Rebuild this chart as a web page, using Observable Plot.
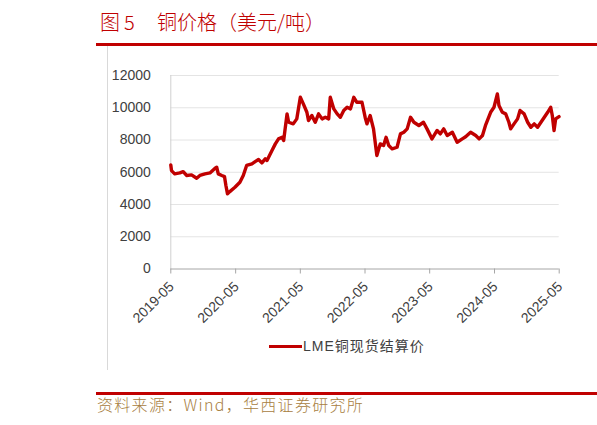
<!DOCTYPE html>
<html>
<head>
<meta charset="utf-8">
<script src="https://cdn.jsdelivr.net/npm/d3@7"></script>
<script src="https://cdn.jsdelivr.net/npm/@observablehq/plot@0.6"></script>
<style>
  html, body { margin: 0; padding: 0; background: #fff; }
  #page { position: relative; width: 597px; height: 425px; overflow: hidden; background: #fff; }
  .abs { position: absolute; }
  .ttl { top: 12px; font: 300 20px/20px "Noto Sans CJK SC", sans-serif; color: #c00000; white-space: pre; }
  #ruleTop { left: 96px; top: 43px; width: 501px; height: 3px; background: #c00000; }
  #ruleBottom { left: 96px; top: 392px; width: 501px; height: 3px; background: #c00000; }
  #vline { left: 107px; top: 46px; width: 1px; height: 324px; background: #d9d9d9; }
  #source { left: 97px; top: 396px; font: 300 16px/16px "Noto Sans CJK SC", sans-serif; color: #a8803f; letter-spacing: 1.3px; white-space: pre; }
  #legLine { left: 269px; top: 345px; width: 33px; height: 3px; background: #c00000; }
  #legText { left: 303px; top: 339px; font: 14px/14px "Liberation Sans", "Noto Sans CJK SC", sans-serif; color: #404040; letter-spacing: 1px; white-space: pre; }
  #chart { left: 0; top: 50px; }
</style>
</head>
<body>
<div id="page">
  <div class="abs ttl" style="left:100px">图</div>
  <div class="abs ttl" style="left:124px">5</div>
  <div class="abs ttl" style="left:157px">铜价格（美元/吨）</div>
  <div id="ruleTop" class="abs"></div>
  <div id="vline" class="abs"></div>
  <div id="chart" class="abs"></div>
  <div id="legLine" class="abs"></div>
  <div id="legText" class="abs">LME铜现货结算价</div>
  <div id="ruleBottom" class="abs"></div>
  <div id="source" class="abs">资料来源：Wind，华西证券研究所</div>
</div>
<script>
const dates = ["2019-05-01","2019-05-05","2019-05-23","2019-06-21","2019-07-10","2019-07-29","2019-08-26","2019-09-24","2019-10-12","2019-11-10",
"2019-12-08","2020-01-06","2020-01-15","2020-01-24","2020-02-13","2020-02-28","2020-03-07","2020-03-16","2020-03-29","2020-04-27",
"2020-05-25","2020-06-13","2020-07-02","2020-08-01","2020-08-19","2020-09-07","2020-09-26","2020-10-15","2020-10-25","2020-11-22",
"2020-12-11","2020-12-29","2021-01-18","2021-01-27","2021-02-15","2021-02-24","2021-03-22","2021-04-11","2021-05-01","2021-05-18",
"2021-06-07","2021-06-16","2021-07-05","2021-07-24","2021-08-12","2021-09-01","2021-09-19","2021-10-08","2021-10-17","2021-11-06",
"2021-11-25","2021-12-13","2022-01-01","2022-01-20","2022-02-08","2022-02-27","2022-03-16","2022-04-14","2022-05-02","2022-05-12",
"2022-05-30","2022-06-18","2022-07-07","2022-07-26","2022-08-14","2022-08-28","2022-09-12","2022-10-01","2022-10-29","2022-11-17",
"2022-12-06","2022-12-25","2023-01-13","2023-02-01","2023-03-01","2023-03-27","2023-04-16","2023-05-14","2023-06-12","2023-06-30",
"2023-07-19","2023-08-08","2023-09-06","2023-10-03","2023-11-01","2023-11-20","2023-12-18","2024-01-16","2024-02-04","2024-02-23",
"2024-03-11","2024-04-09","2024-04-28","2024-05-17","2024-05-26","2024-06-14","2024-07-03","2024-07-21","2024-07-31","2024-08-19",
"2024-09-08","2024-09-22","2024-10-15","2024-11-04","2024-11-22","2024-12-11","2024-12-30","2025-01-18","2025-02-06","2025-02-25",
"2025-03-14","2025-03-23","2025-04-02","2025-04-11","2025-04-30"];

const prices = [6450,6100,5900,5960,6040,5800,5840,5630,5800,5900,
5960,6250,6310,5900,5800,5730,5180,4660,4800,5070,
5380,5800,6420,6520,6660,6790,6580,6830,6730,7350,
7760,8070,8170,7970,9620,9100,9000,9310,10650,10240,
9720,9210,9520,9100,9620,9310,9410,9310,10650,9930,
9620,9410,9830,10030,9930,10650,10340,10340,9400,9000,
9520,8690,7040,7760,7660,8170,7660,7450,7550,8380,
8480,8690,9410,9100,8900,9100,8690,8070,8590,8380,
8690,8280,8480,7860,8070,8200,8480,8280,8070,8280,
8900,9720,10030,10860,10140,9720,9620,9100,8690,9000,
9310,9830,9620,9100,8790,9000,8790,9100,9410,9720,
10030,9520,8590,9310,9450];

const yTicks = [0, 2000, 4000, 6000, 8000, 10000, 12000];
const xTickDates = ["2019-05-01","2020-05-01","2021-05-01","2022-05-01","2023-05-01","2024-05-01","2025-05-01"];
const xTickLabels = ["2019-05","2020-05","2021-05","2022-05","2023-05","2024-05","2025-05"];

const parse = d3.utcParse("%Y-%m-%d");
const series = dates.map((d, i) => ({date: parse(d), price: prices[i]}));
const xTicks = xTickDates.map((d, i) => ({date: parse(d), label: xTickLabels[i]}));

const chart = Plot.plot({
  width: 597,
  height: 320,
  marginTop: 25,
  marginBottom: 101.5,
  marginLeft: 170.3,
  marginRight: 38.3,
  style: {background: "transparent", fontFamily: "'Liberation Sans', Arial, sans-serif"},
  x: {type: "utc", domain: [parse("2019-05-01"), parse("2025-05-01")]},
  y: {domain: [0, 12000]},
  marks: [
    Plot.gridY(yTicks.filter(v => v > 0), {stroke: "#e4e4e4", strokeOpacity: 1, strokeWidth: 1}),
    Plot.ruleX([parse("2019-05-01")], {stroke: "#d0d0d0", strokeWidth: 1}),
    Plot.axisY({ticks: yTicks, tickSize: 0, tickPadding: 20, fontSize: 14, fill: "#404040", label: null, tickFormat: d => String(d)}),
    Plot.ruleY([0], {stroke: "#a6a6a6", strokeWidth: 1}),
    Plot.axisX({ticks: xTicks.map(d => d.date), tickSize: 5, stroke: "#a6a6a6", strokeOpacity: 1, tickFormat: () => "", label: null}),
    Plot.lineY(series, {x: "date", y: "price", stroke: "#c00000", strokeWidth: 3.4, strokeLinejoin: "round"}),
    Plot.text(xTicks, {x: "date", text: "label", frameAnchor: "bottom", rotate: -45, textAnchor: "end", dx: 4, dy: 18.5, fontSize: 14, fill: "#404040"})
  ]
});
document.getElementById("chart").appendChild(chart);
</script>
</body>
</html>
